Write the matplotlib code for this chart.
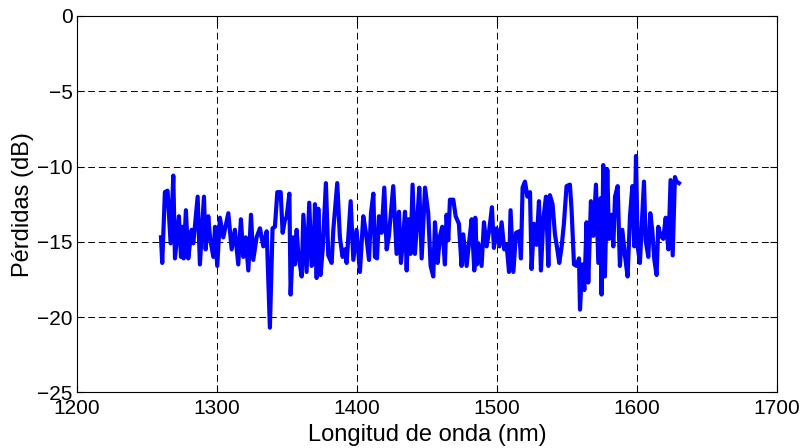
import numpy as np
import matplotlib
matplotlib.use("Agg")
from matplotlib import pyplot as plt

# Datos: longitud de onda (nm) y perdidas (dB)
longitud = [
    1260.0, 1260.9, 1262.8, 1264.7, 1266.9, 1268.8, 1270.0, 1272.8, 1274.3, 1275.2,
    1276.2, 1277.8, 1279.5, 1280.7, 1281.9, 1283.1, 1286.2, 1287.8, 1290.7, 1291.9,
    1293.8, 1295.0, 1297.4, 1298.6, 1300.2, 1302.1, 1304.5, 1308.1, 1310.5, 1312.8,
    1315.2, 1317.1, 1318.8, 1320.5, 1322.4, 1324.3, 1325.9, 1328.3, 1330.7, 1333.1,
    1335.5, 1337.8, 1339.7, 1341.4, 1343.1, 1345.5, 1346.9, 1348.6, 1349.7, 1351.7,
    1352.6, 1354.5, 1355.7, 1356.9, 1358.1, 1360.5, 1361.7, 1364.0, 1365.9, 1367.6,
    1368.8, 1370.0, 1371.2, 1372.4, 1374.0, 1375.5, 1377.8, 1379.5, 1381.9, 1383.1,
    1385.9, 1387.8, 1389.7, 1391.4, 1392.6, 1395.5, 1397.4, 1399.7, 1402.1, 1404.5,
    1406.4, 1408.6, 1410.0, 1411.7, 1412.8, 1414.3, 1415.7, 1417.6, 1419.5, 1421.2,
    1422.8, 1425.9, 1428.3, 1430.0, 1431.4, 1433.1, 1434.3, 1435.5, 1436.7, 1438.3,
    1439.7, 1441.4, 1442.6, 1444.5, 1446.2, 1448.6, 1450.9, 1452.6, 1454.5, 1455.7,
    1457.6, 1459.3, 1460.9, 1462.8, 1464.0, 1465.2, 1466.4, 1468.8, 1470.5, 1472.8,
    1474.7, 1475.9, 1478.3, 1480.0, 1481.9, 1483.8, 1484.5, 1485.7, 1486.7, 1489.0,
    1490.7, 1492.6, 1494.5, 1496.4, 1497.8, 1499.7, 1501.7, 1503.3, 1505.2, 1506.9,
    1508.6, 1509.7, 1511.7, 1513.6, 1515.9, 1517.1, 1518.3, 1520.0, 1521.7, 1523.6,
    1524.7, 1526.4, 1528.3, 1530.0, 1531.4, 1533.1, 1535.0, 1536.7, 1537.8, 1539.7,
    1541.4, 1543.1, 1544.5, 1546.2, 1547.8, 1549.7, 1552.1, 1553.3, 1555.0, 1556.9,
    1558.6, 1559.3, 1560.9, 1562.4, 1564.0, 1565.2, 1567.1, 1568.8, 1570.7, 1572.4,
    1574.0, 1574.7, 1575.9, 1577.1, 1578.8, 1580.0, 1581.9, 1583.1, 1584.3, 1586.2,
    1587.8, 1589.5, 1591.4, 1593.3, 1595.0, 1596.7, 1598.1, 1599.3, 1600.5, 1602.1,
    1603.3, 1605.0, 1606.2, 1608.1, 1609.5, 1610.9, 1612.4, 1614.0, 1615.2, 1616.9,
    1618.8, 1620.5, 1622.4, 1624.0, 1625.5, 1627.1, 1628.3, 1630.0,
]
perdidas = [
    -14.7, -16.4, -11.7, -11.6, -15.1, -10.6, -16.1, -13.3, -16.0, -14.0,
    -16.1, -12.9, -16.1, -15.1, -14.2, -15.1, -12.0, -16.5, -12.0, -15.5,
    -13.3, -14.7, -16.0, -14.0, -16.6, -13.4, -14.7, -13.1, -15.5, -14.2,
    -16.5, -13.5, -16.0, -14.7, -16.9, -13.2, -16.2, -14.7, -14.1, -15.3,
    -14.3, -20.7, -14.1, -14.0, -11.7, -11.7, -14.4, -13.5, -13.4, -11.8,
    -18.5, -14.7, -16.5, -14.2, -15.8, -17.3, -13.2, -17.0, -12.4, -16.6,
    -16.4, -12.5, -17.4, -12.8, -17.2, -15.5, -11.1, -15.9, -16.4, -14.2,
    -11.1, -14.7, -16.0, -15.5, -16.4, -12.3, -16.2, -14.2, -17.0, -13.3,
    -14.4, -16.2, -13.1, -11.8, -16.0, -16.1, -13.3, -14.4, -11.4, -15.5,
    -14.6, -11.3, -15.8, -13.0, -16.4, -14.6, -13.0, -16.9, -13.5, -15.8,
    -11.2, -15.8, -14.2, -11.4, -16.1, -11.4, -13.1, -16.6, -17.3, -13.7,
    -16.4, -14.6, -14.0, -16.5, -13.2, -14.9, -12.2, -12.2, -13.3, -13.8,
    -16.6, -14.5, -16.6, -15.1, -13.5, -16.9, -13.4, -16.5, -15.1, -16.6,
    -13.7, -15.3, -14.2, -12.7, -15.4, -14.1, -15.3, -13.7, -15.5, -15.2,
    -17.0, -12.9, -17.0, -14.4, -14.3, -16.1, -11.4, -11.0, -12.0, -11.7,
    -16.8, -13.8, -15.2, -12.3, -16.9, -13.5, -12.0, -16.6, -11.9, -12.5,
    -14.5, -15.5, -16.4, -15.3, -13.8, -11.3, -11.2, -12.9, -16.5, -16.6,
    -16.1, -19.5, -16.5, -18.2, -13.7, -17.7, -12.3, -14.6, -11.2, -16.4,
    -12.1, -18.5, -9.9, -17.3, -10.2, -14.8, -13.2, -15.3, -12.0, -11.3,
    -16.6, -14.2, -15.9, -17.3, -13.3, -11.3, -15.3, -9.3, -15.3, -16.4,
    -14.1, -11.0, -14.9, -16.0, -13.1, -14.2, -16.2, -17.2, -14.0, -14.6,
    -14.8, -13.4, -15.5, -10.9, -15.9, -10.7, -11.0, -11.1,
]

x_ticks = [1200, 1300, 1400, 1500, 1600, 1700]
y_ticks = [-25, -20, -15, -10, -5, 0]

plt.rcParams['font.family'] = ['Liberation Sans', 'DejaVu Sans']
plt.rcParams['font.size'] = 15

fig = plt.figure(figsize=(8.06, 4.48), dpi=100)
ax = fig.add_axes([0.0955, 0.124, 0.8685, 0.8404])

ax.plot(longitud, perdidas, color=(0, 0, 1), linewidth=3.0)  # perdidas

ax.set_xlim(1200, 1700)
ax.set_ylim(-25, 0)
ax.set_xticks(x_ticks)
ax.set_yticks(y_ticks)

ax.grid(True, color='black', linestyle=(0, (7, 4)), linewidth=0.7)  # grade
ax.tick_params(axis='both', direction='in', length=5, top=True, right=True,
               width=0.8, labelsize=15)
ax.tick_params(axis='x', pad=5)
ax.tick_params(axis='y', pad=3)
for s in ax.spines.values():
    s.set_linewidth(0.8)

ax.set_xlabel("Longitud de onda (nm)", fontsize=17, labelpad=4)
ax.set_ylabel("Pérdidas (dB)", fontsize=17, labelpad=2)

fig.savefig("out.png", dpi=100)
